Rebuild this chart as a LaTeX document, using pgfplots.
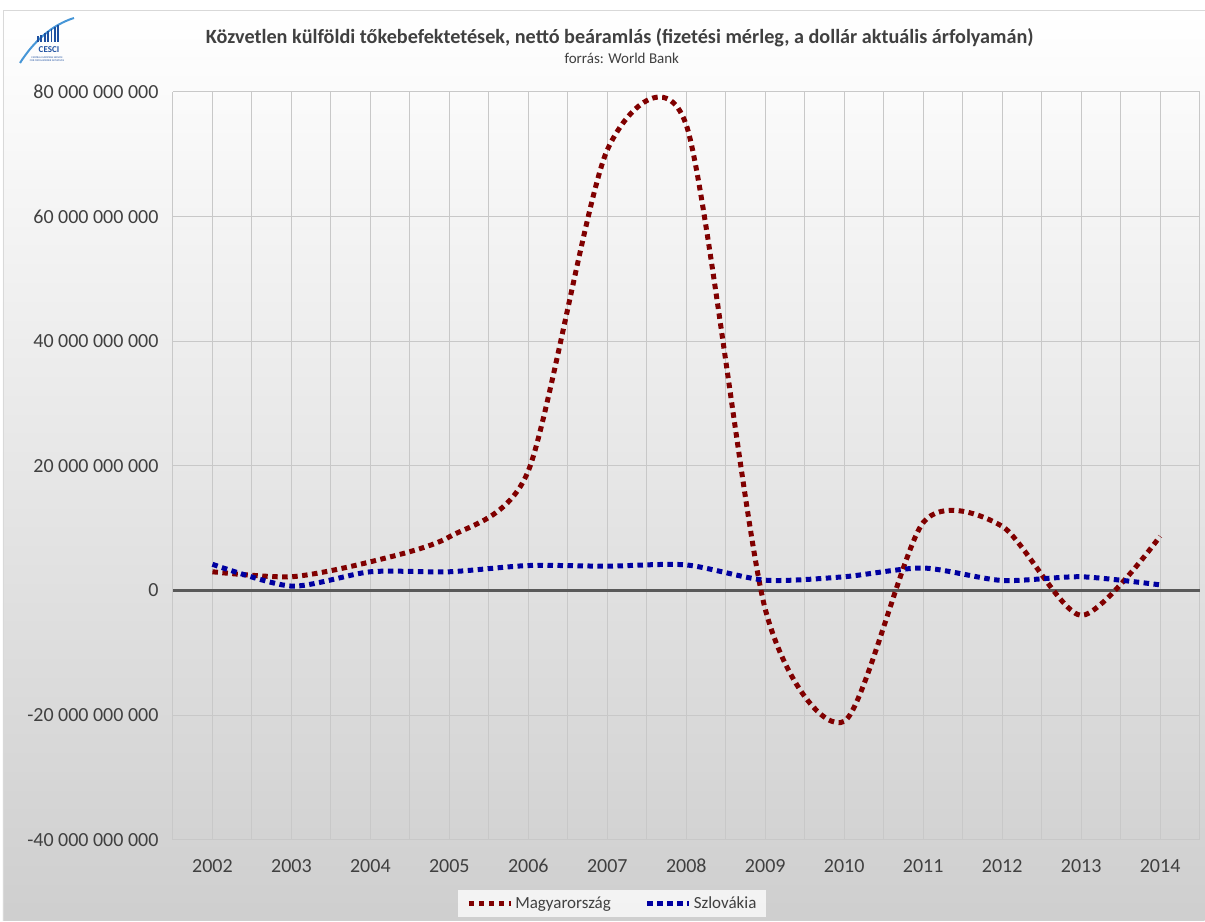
\documentclass[border=0pt]{standalone}
\usepackage{pgfplots}
\usepackage{pgfplotstable}
\pgfplotsset{compat=1.18}
\usepackage{fontspec}
\setmainfont{Carlito}

\definecolor{hured}{RGB}{128,0,0}
\definecolor{skblue}{RGB}{0,0,160}
\definecolor{gridgray}{RGB}{200,200,200}
\definecolor{txtgray}{RGB}{64,64,64}
\definecolor{axisdark}{RGB}{89,89,89}
\definecolor{logoblue}{RGB}{30,80,160}
\definecolor{logosky}{RGB}{70,150,215}

% Net FDI inflows, billions of current USD
\pgfplotstableread{
year  hu     sk
2002  3.0    4.2
2003  2.2    0.7
2004  4.6    3.0
2005  8.6    3.0
2006  19.2   4.0
2007  70.7   3.9
2008  74.7   4.1
2009  -3.0   1.65
2010  -21.0  2.2
2011  10.9   3.6
2012  10.3   1.6
2013  -4.0   2.2
2014  8.7    0.9
}\fdidata

\begin{document}
\begin{tikzpicture}[x=1pt,y=1pt]
% page background
\fill[white] (0,0) rectangle (1205,921);
\shade[top color=white, bottom color=gray!38] (3,0) rectangle (1205,911);
\draw[gray!30, line width=0.8pt] (3,0) -- (3,911) -- (1205,911);
\useasboundingbox (0,0) rectangle (1205,921);

% logo
\draw[logosky, line width=2pt] (20,858) .. controls (34,880) and (52,896) .. (74,903);
\foreach \i/\h in {0/6,1/7,2/9,3/11,4/13,5/15,6/17}{
  \fill[logoblue] (37+3.4*\i,879) rectangle (38.8+3.4*\i,879+\h);
}
\node[font=\bfseries\fontsize{9}{10}\selectfont, text=logoblue] at (49,871) {CESCI};
\node[font=\fontsize{2.6}{3}\selectfont, text=logoblue, align=center] at (47,862) {CENTRAL EUROPEAN SERVICE\\FOR CROSS-BORDER INITIATIVES};

% titles
\node[font=\bfseries\fontsize{20.2}{24}\selectfont, text=txtgray] at (620,883) {Közvetlen külföldi tőkebefektetések, nettó beáramlás (fizetési mérleg, a dollár aktuális árfolyamán)};
\node[font=\fontsize{15}{18}\selectfont, text=txtgray] at (622,863) {forrás: World Bank};

\begin{axis}[
  at={(173pt,81pt)}, anchor=south west,
  scale only axis, width=1027pt, height=748pt,
  xmin=2001.5, xmax=2014.5, ymin=-40, ymax=80,
  axis line style={draw=none},
  major tick length=0pt, minor tick length=0pt,
  xtick={2002,2003,...,2014},
  minor xtick={2001.5,2002.5,...,2014.5},
  ytick={-40,-20,0,20,40,60,80},
  yticklabels={-40 000 000 000,-20 000 000 000,0,20 000 000 000,40 000 000 000,60 000 000 000,80 000 000 000},
  /pgf/number format/1000 sep={},
  /pgf/number format/assume math mode=true,
  xmajorgrids, xminorgrids, ymajorgrids,
  grid style={gridgray, line width=1pt},
  minor grid style={gridgray, line width=1pt},
  extra y ticks={0}, extra y tick labels={},
  extra y tick style={grid style={axisdark, line width=2.6pt}},
  ticklabel style={font=\fontsize{20}{24}\selectfont, text=txtgray},
  xticklabel style={yshift=-16pt},
  yticklabel style={xshift=-11pt},
  legend style={at={(0.428,-0.0856)}, anchor=center, legend columns=2,
    fill=white, fill opacity=0.75, text opacity=1, draw=none,
    inner xsep=8pt, inner ysep=5pt,
    font=\fontsize{17}{20}\selectfont, text=txtgray,
    nodes={inner xsep=2pt},
    /tikz/every even column/.append style={column sep=32pt}},
  legend image code/.code={\draw[#1] (0pt,0pt) -- (42pt,0pt);},
]
\addplot[hured, line width=5pt, dash pattern=on 5.5pt off 4.5pt, smooth, tension=0.44]
  table[x=year, y=hu]{\fdidata};
\addlegendentry{Magyarország}
\addplot[skblue, line width=5pt, dash pattern=on 5.5pt off 4.5pt, smooth, tension=0.44]
  table[x=year, y=sk]{\fdidata};
\addlegendentry{Szlovákia}
\end{axis}
\end{tikzpicture}
\end{document}
